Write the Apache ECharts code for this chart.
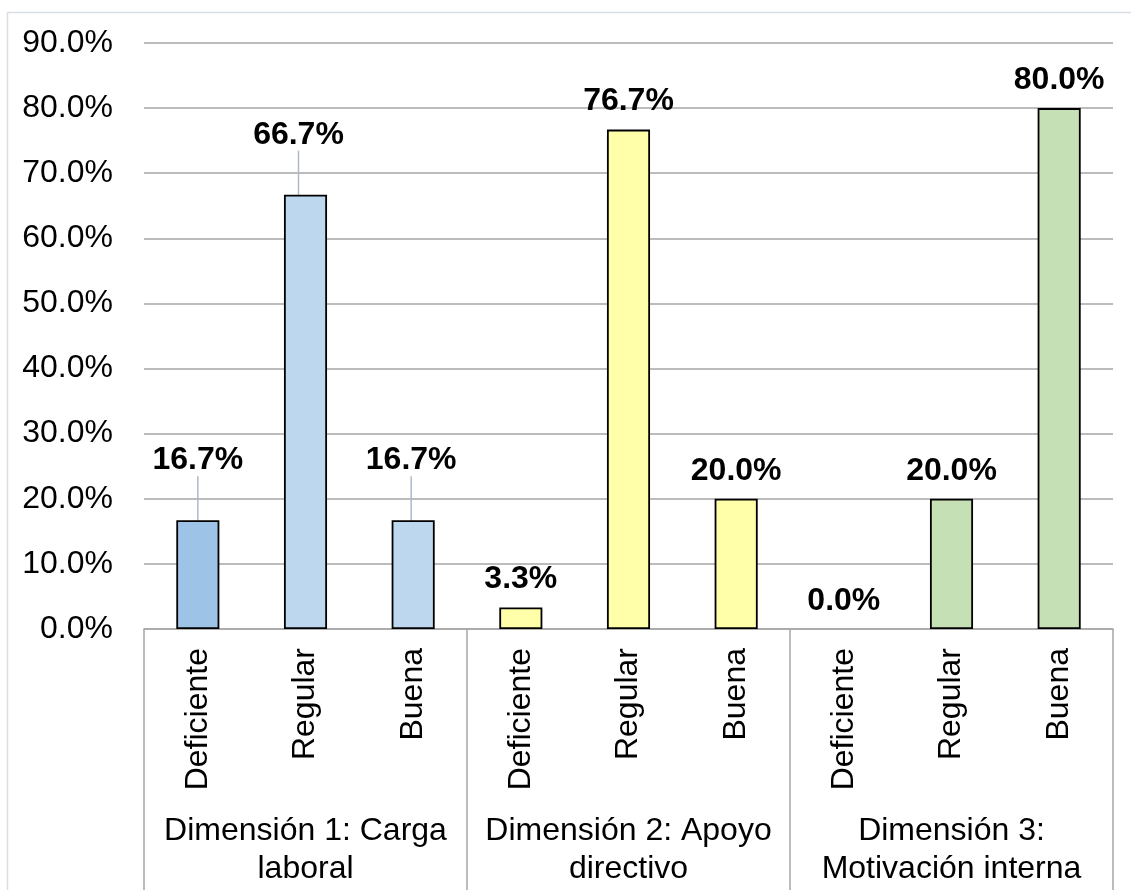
<!DOCTYPE html>
<html>
<head>
<meta charset="utf-8">
<script src="https://cdn.jsdelivr.net/npm/echarts@6/dist/echarts.min.js"></script>
<style>
  html, body { margin: 0; padding: 0; background: #ffffff; }
  #chart { width: 1131px; height: 890px; }
</style>
</head>
<body>
<div id="chart"></div>
<script>
// Levels shown under each bar
const levels = ['Deficiente', 'Regular', 'Buena', 'Deficiente', 'Regular', 'Buena', 'Deficiente', 'Regular', 'Buena'];
// Dimension groups (three levels each)
const dimensions = ['Dimensión 1: Carga\nlaboral', 'Dimensión 2: Apoyo\ndirectivo', 'Dimensión 3:\nMotivación interna'];
// Percentages per bar
const percentages = [16.7, 66.7, 16.7, 3.3, 76.7, 20.0, 0.0, 20.0, 80.0];
// Value axis ticks
const yTicks = [0, 10, 20, 30, 40, 50, 60, 70, 80, 90];

const barColors = ['#9DC3E6', '#BDD7EE', '#BDD7EE', '#FFFFA9', '#FFFFA9', '#FFFFA9', '#C5E0B4', '#C5E0B4', '#C5E0B4'];
// Labels lifted off their bars with a leader line
const liftedLabels = { 0: { dx: 0 }, 1: { dx: -7 }, 2: { dx: -2 } };

const font = "'Liberation Sans', Arial, sans-serif";
const chart = echarts.init(document.getElementById('chart'), null, { renderer: 'canvas' });

chart.setOption({
  animation: false,
  backgroundColor: '#ffffff',
  graphic: [{
    type: 'rect',
    shape: { x: 7.5, y: 12.5, width: 1140, height: 900 },
    style: { fill: 'none', stroke: '#D9DEE5', lineWidth: 1.5 },
    silent: true
  }],
  grid: { left: 144, right: 18, top: 43, bottom: 261, containLabel: false },
  xAxis: [{
    type: 'category',
    data: levels,
    position: 'bottom',
    axisLine: { show: true, lineStyle: { color: '#A6A6A6', width: 1.5 } },
    axisTick: { show: false },
    axisLabel: {
      interval: 0, rotate: 90, margin: 19,
      fontSize: 32, fontFamily: font, color: '#000000'
    },
    splitLine: { show: false }
  }, {
    type: 'category',
    data: dimensions,
    position: 'bottom',
    offset: 0,
    axisLine: { show: false },
    axisTick: { show: true, interval: 0, length: 262, lineStyle: { color: '#A6A6A6', width: 1.5 } },
    axisLabel: {
      interval: 0, margin: 183, fontSize: 32, lineHeight: 38,
      fontFamily: font, color: '#000000', align: 'center'
    },
    splitLine: { show: false }
  }],
  yAxis: {
    type: 'value',
    min: yTicks[0],
    max: yTicks[yTicks.length - 1],
    interval: 10,
    axisLine: { show: false },
    axisTick: { show: false },
    axisLabel: {
      margin: 31, fontSize: 32, fontFamily: font, color: '#000000',
      formatter: v => v.toFixed(1) + '%'
    },
    splitLine: { lineStyle: { color: '#A6A6A6', width: 1.5 } }
  },
  series: [{
    type: 'bar',
    xAxisIndex: 0,
    barWidth: '40%',
    data: percentages.map((v, i) => ({
      value: v,
      itemStyle: { color: barColors[i], borderColor: '#000000', borderWidth: v > 0 ? 1.8 : 0 },
      labelLine: { show: i in liftedLabels }
    })),
    label: {
      show: true,
      position: 'top',
      distance: 12,
      fontSize: 32,
      fontWeight: 'bold',
      fontFamily: font,
      color: '#000000',
      formatter: p => p.value.toFixed(1) + '%'
    },
    labelLine: { lineStyle: { color: '#ADB9CA', width: 1.5 } },
    labelLayout: p => {
      const lift = liftedLabels[p.dataIndex];
      return lift ? { dx: lift.dx, dy: -32 } : {};
    }
  }]
});
</script>
</body>
</html>
